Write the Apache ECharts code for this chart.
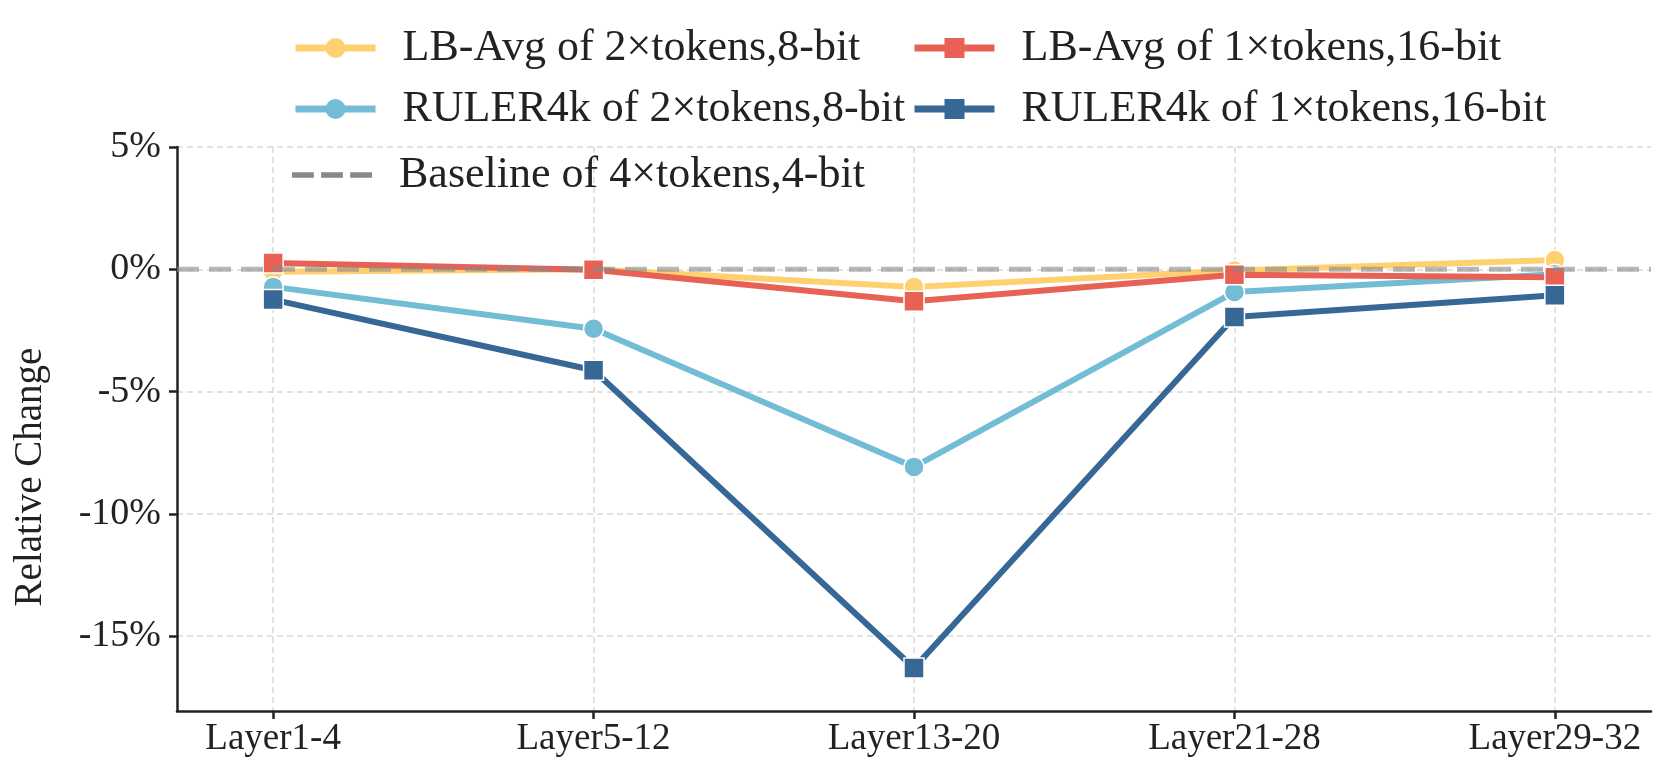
<!DOCTYPE html>
<html>
<head>
<meta charset="utf-8">
<script src="https://cdn.jsdelivr.net/npm/echarts@6/dist/echarts.min.js"></script>
<style>
html,body{margin:0;padding:0;background:#fff;}
#chart{width:1661px;height:777px;}
</style>
</head>
<body>
<div id="chart"></div>
<script>
const categories = ['Layer1-4', 'Layer5-12', 'Layer13-20', 'Layer21-28', 'Layer29-32'];
const lbAvg2x = [-0.1, 0.0, -0.72, -0.05, 0.38];
const lbAvg1x = [0.26, -0.02, -1.31, -0.22, -0.33];
const ruler2x = [-0.72, -2.43, -8.08, -0.93, -0.2];
const ruler1x = [-1.24, -4.13, -16.3, -1.95, -1.06];
const baseline = [0, 0];
const yTicks = [-15, -10, -5, 0, 5];

const FONT = '"Liberation Serif", "DejaVu Serif", serif';
const chart = echarts.init(document.getElementById('chart'));

function pts(arr) { return arr.map((v, i) => [i, v]); }

function lineSeries(name, data, color, symbol, z) {
  return {
    name: name, type: 'line', data: pts(data), z: z,
    symbol: symbol, symbolSize: 20,
    lineStyle: { color: color, width: 6 },
    itemStyle: { color: color, borderColor: '#fff', borderWidth: 1.5 },
    emphasis: { disabled: true }, animation: false
  };
}

const legendText = { fontFamily: FONT, fontSize: 44, color: '#222', padding: [0, 0, 0, 22], lineHeight: 44 };
const legendCommon = {
  orient: 'vertical', itemWidth: 80, itemHeight: 25, itemGap: 17,
  textStyle: legendText,
  lineStyle: { width: 7 },
  itemStyle: { borderWidth: 0 }
};

chart.setOption({
  animation: false,
  grid: { left: 177, right: 10, top: 147, bottom: 66, containLabel: false },
  graphic: [{
    type: 'text',
    x: 31, y: 477, rotation: Math.PI / 2,
    style: {
      text: 'Relative Change', fontFamily: FONT, fontSize: 39, fill: '#222',
      align: 'center', verticalAlign: 'middle'
    }
  }],
  legend: [
    Object.assign({}, legendCommon, {
      left: 287, top: 21,
      data: [
        { name: 'LB-Avg of 2×tokens,8-bit' },
        { name: 'RULER4k of 2×tokens,8-bit' }
      ]
    }),
    Object.assign({}, legendCommon, {
      left: 287, top: 148, itemHeight: 6,
      data: [
        { name: 'Baseline of 4×tokens,4-bit',
          icon: 'path://M0,0h24v6h-24Z M32,0h24v6h-24Z M64,0h24v6h-24Z',
          itemStyle: { color: '#888', opacity: 1, borderWidth: 0 } }
      ]
    }),
    Object.assign({}, legendCommon, {
      left: 906, top: 21,
      data: [
        { name: 'LB-Avg of 1×tokens,16-bit' },
        { name: 'RULER4k of 1×tokens,16-bit' }
      ]
    })
  ],
  xAxis: {
    type: 'value', min: -0.3, max: 4.3,
    axisLine: { show: true, onZero: false, lineStyle: { color: '#222', width: 2.5 } },
    axisTick: { show: true, length: 8, lineStyle: { color: '#222', width: 2.5 }, customValues: [0, 1, 2, 3, 4] },
    axisLabel: {
      customValues: [0, 1, 2, 3, 4], margin: 10,
      formatter: v => categories[Math.round(v)] || '',
      fontFamily: FONT, fontSize: 37, color: '#222'
    },
    splitLine: { show: true, lineStyle: { color: '#d9d9d9', width: 1.5, type: [6, 4] } }
  },
  yAxis: {
    type: 'value', min: -18.06, max: 5,
    axisLine: { show: true, onZero: false, lineStyle: { color: '#222', width: 2.5 } },
    axisTick: { show: true, length: 8, lineStyle: { color: '#222', width: 2.5 }, customValues: yTicks },
    axisLabel: {
      customValues: yTicks, margin: 16,
      formatter: v => v + '%',
      fontFamily: FONT, fontSize: 38, color: '#222'
    },
    splitLine: { show: true, lineStyle: { color: '#d9d9d9', width: 1.5, type: [6, 4] } }
  },
  series: [
    lineSeries('LB-Avg of 2×tokens,8-bit', lbAvg2x, '#ffd06f', 'circle', 2),
    lineSeries('RULER4k of 2×tokens,8-bit', ruler2x, '#72bcd5', 'circle', 3),
    lineSeries('LB-Avg of 1×tokens,16-bit', lbAvg1x, '#e76254', 'rect', 4),
    lineSeries('RULER4k of 1×tokens,16-bit', ruler1x, '#376795', 'rect', 5),
    {
      name: 'Baseline of 4×tokens,4-bit', type: 'line', z: 6,
      data: [[-0.3, baseline[0]], [4.3, baseline[1]]],
      symbol: 'none',
      lineStyle: { color: '#888', width: 5, type: [22, 10], opacity: 0.6 },
      itemStyle: { color: '#888' },
      emphasis: { disabled: true }, animation: false
    }
  ]
});
</script>
</body>
</html>
